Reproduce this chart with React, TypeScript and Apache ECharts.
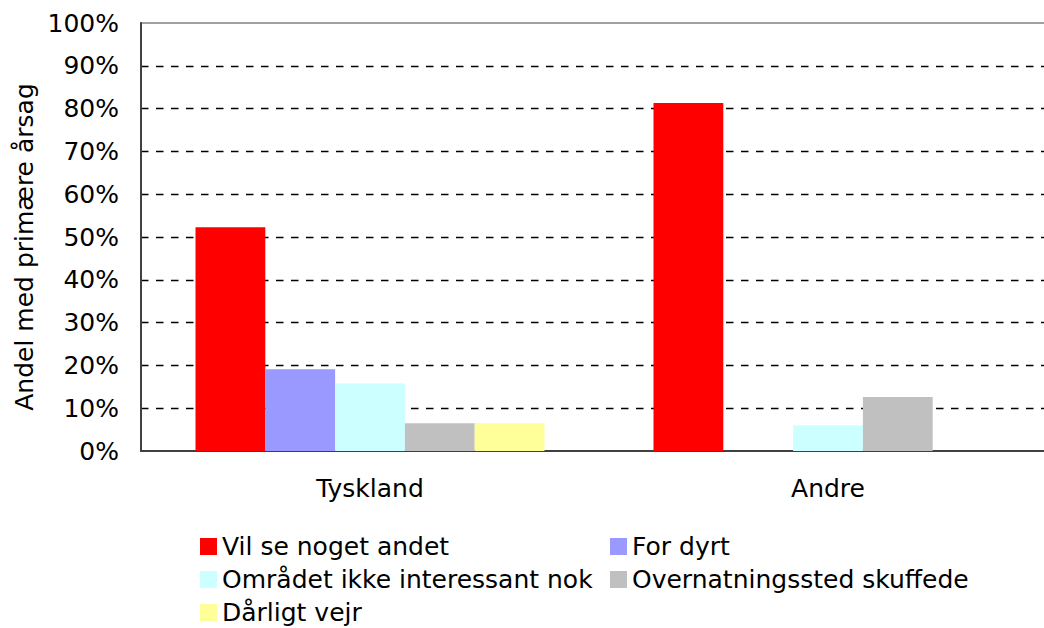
import React, { useEffect, useRef } from "react";
import * as echarts from "echarts";

const categories = ["Tyskland", "Andre"];
const seriesNames = [
  "Vil se noget andet",
  "For dyrt",
  "Området ikke interessant nok",
  "Overnatningssted skuffede",
  "Dårligt vejr",
];
const vilSeNogetAndet = [52.3, 81.3];
const forDyrt = [19.1, 0];
const omraadetIkkeInteressant = [15.8, 6.0];
const overnatningsstedSkuffede = [6.5, 12.6];
const daarligtVejr = [6.5, 0];
const seriesColors = ["#FF0000", "#9999FF", "#CCFFFF", "#C0C0C0", "#FFFF99"];
const yTicks = [0, 10, 20, 30, 40, 50, 60, 70, 80, 90, 100];

const FONT = "DejaVu Sans";
const FS = 25;

export default function App() {
  const ref = useRef<HTMLDivElement>(null);
  useEffect(() => {
    if (!ref.current) return;
    const chart = echarts.init(ref.current, undefined, { renderer: "svg" });
    const values = [
      vilSeNogetAndet,
      forDyrt,
      omraadetIkkeInteressant,
      overnatningsstedSkuffede,
      daarligtVejr,
    ];
    const legendCommon = {
      orient: "vertical" as const,
      icon: "rect",
      itemWidth: 17,
      itemHeight: 17,
      itemGap: 8,
      itemTextGap: 6,
      textStyle: { fontFamily: FONT, fontSize: FS, color: "#000", lineHeight: 25 },
      padding: 0,
    };
    chart.setOption({
      animation: false,
      backgroundColor: "#fff",
      textStyle: { fontFamily: FONT },
      grid: {
        left: 141,
        top: 23,
        bottom: 177,
        right: 1,
        show: true,
        borderColor: "#a0a0a0",
        borderWidth: 2,
        containLabel: false,
      },
      legend: [
        {
          ...legendCommon,
          left: 200,
          top: 534,
          data: [seriesNames[0], seriesNames[2], seriesNames[4]],
        },
        {
          ...legendCommon,
          left: 610,
          top: 534,
          data: [seriesNames[1], seriesNames[3]],
        },
      ],
      xAxis: {
        type: "category",
        data: categories,
        axisLine: { show: true, lineStyle: { color: "#404040", width: 2 } },
        axisTick: { show: false },
        axisLabel: { fontFamily: FONT, fontSize: FS, color: "#000", margin: 25 },
      },
      yAxis: {
        type: "value",
        min: yTicks[0],
        max: yTicks[yTicks.length - 1],
        interval: 10,
        name: "Andel med primære årsag",
        nameLocation: "middle",
        nameGap: 103,
        nameTextStyle: {
          fontFamily: FONT,
          fontSize: FS,
          color: "#000",
          padding: [0, 20, 0, 0],
        },
        axisLine: { show: true, lineStyle: { color: "#404040", width: 2 } },
        axisTick: { show: false },
        axisLabel: {
          fontFamily: FONT,
          fontSize: FS,
          color: "#000",
          margin: 22,
          formatter: (v: number) => `${v}%`,
        },
        splitLine: {
          show: true,
          showMinLine: false,
          showMaxLine: false,
          lineStyle: { color: "#000", type: [7.5, 7.5], width: 1.3 },
        },
      },
      series: seriesNames.map((name, i) => ({
        name,
        type: "bar",
        data: values[i],
        barGap: "0%",
        barCategoryGap: "23.8%",
        itemStyle: { color: seriesColors[i] },
      })),
    });
    return () => chart.dispose();
  }, []);
  return (
    <div
      ref={ref}
      style={{ position: "fixed", left: 0, top: 0, width: 1058, height: 628 }}
    />
  );
}
